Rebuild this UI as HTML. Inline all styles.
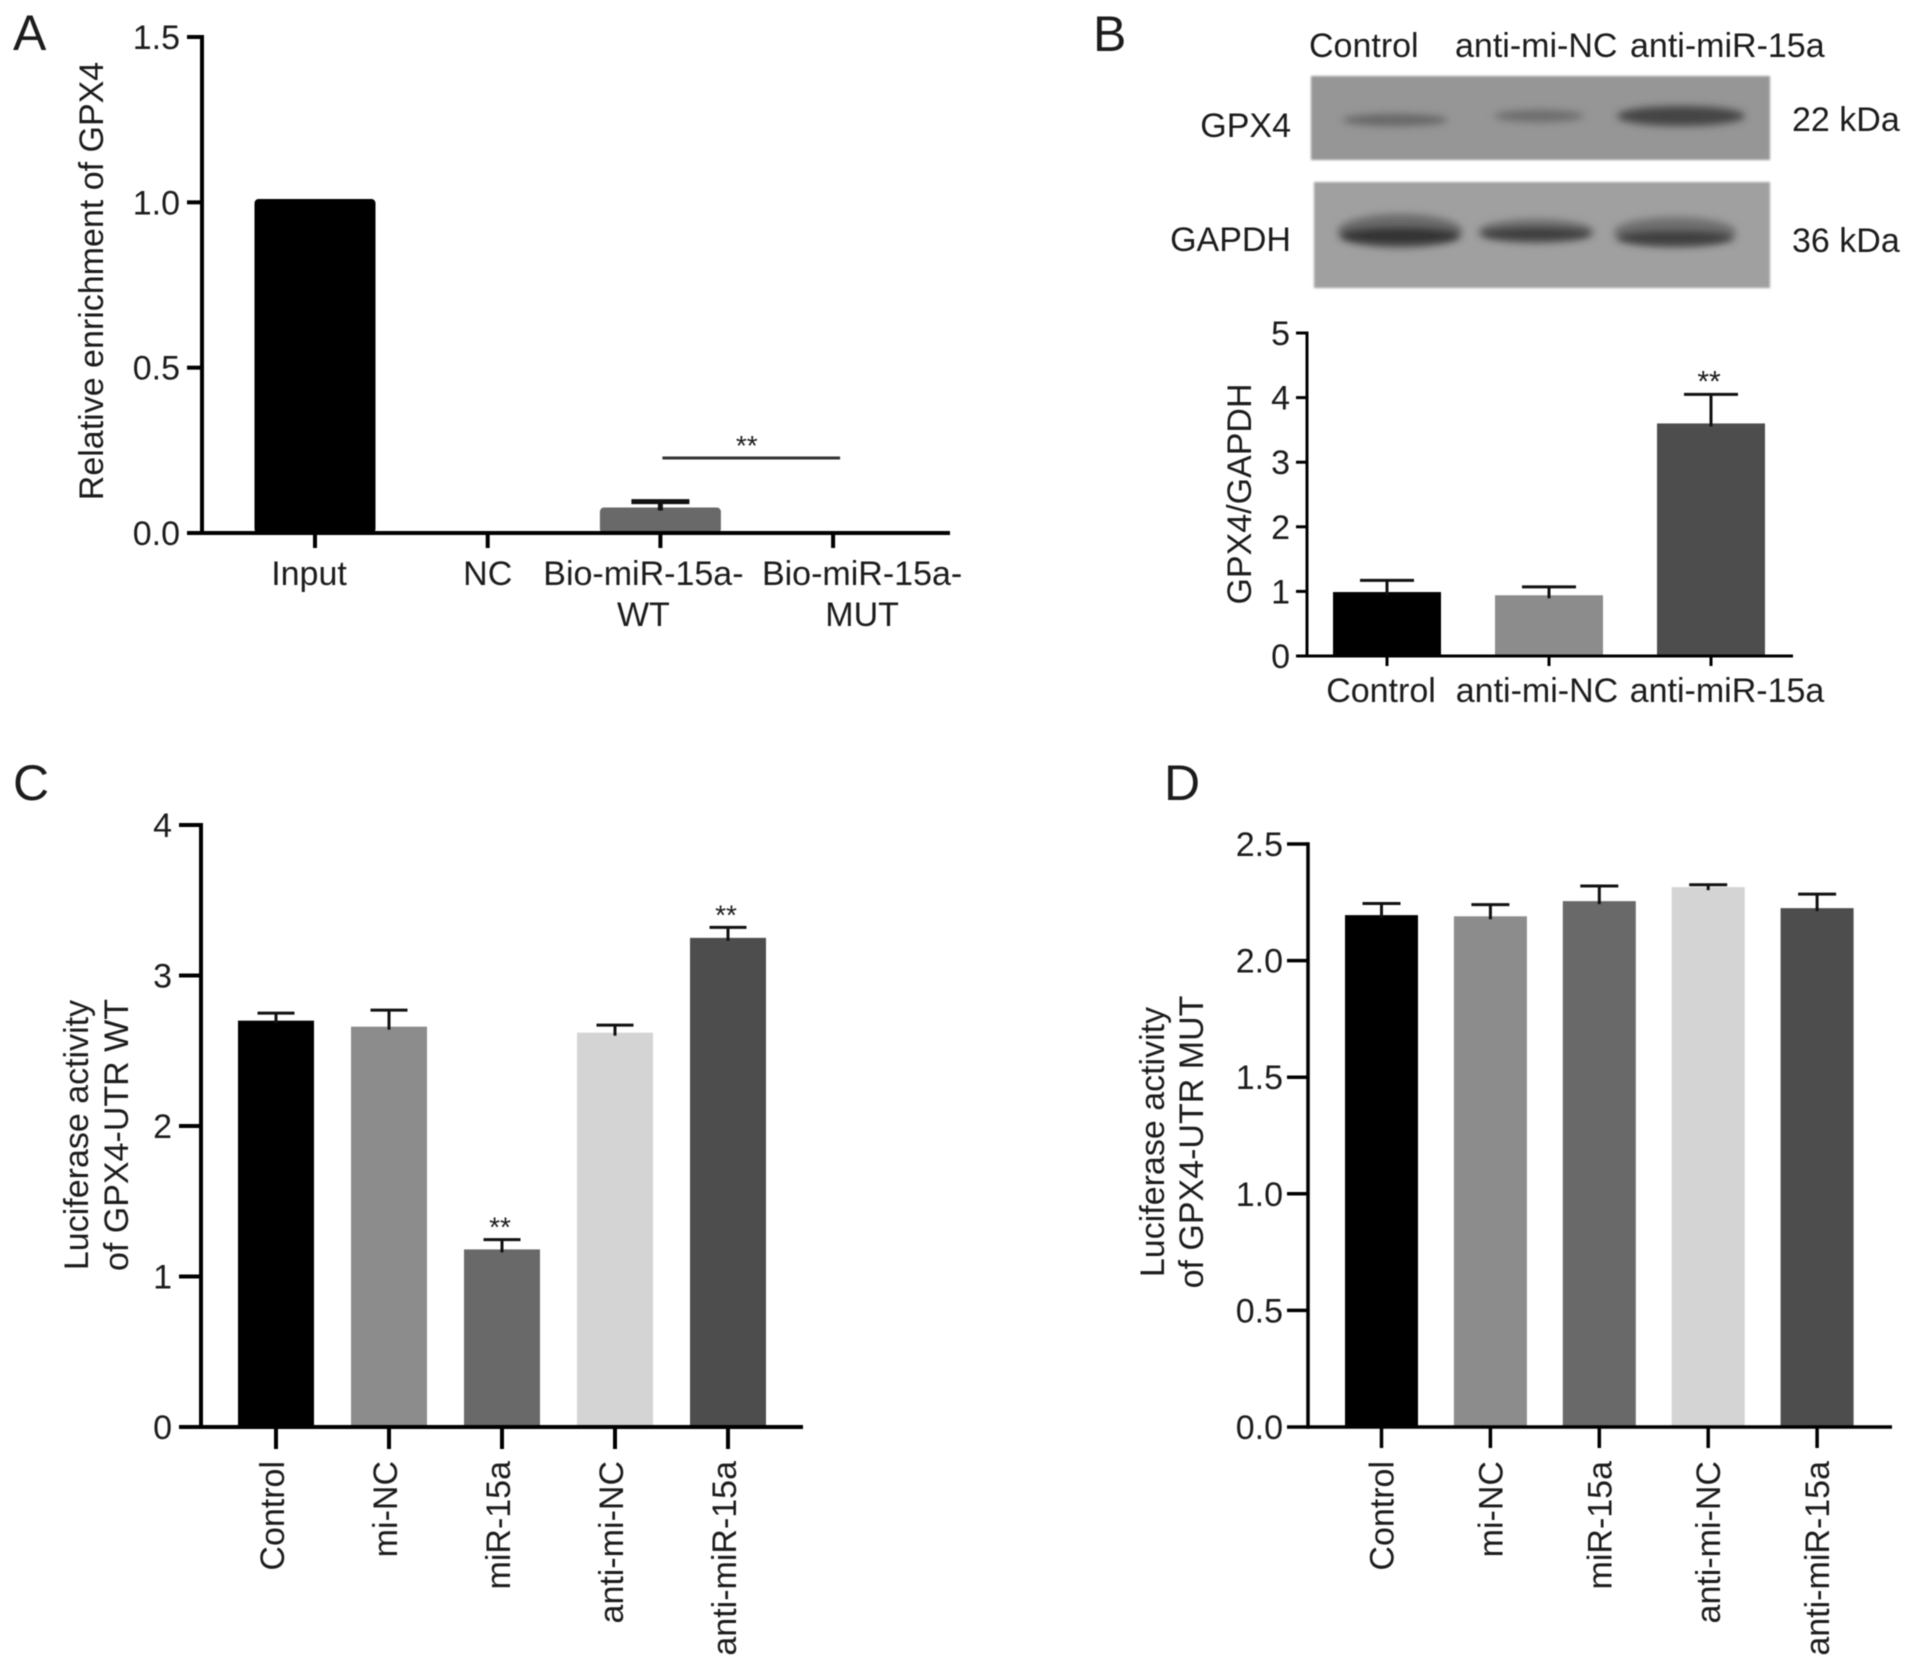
<!DOCTYPE html>
<html lang="en">
<head>
<meta charset="utf-8">
<title>GPX4 enrichment and luciferase activity figure</title>
<style>
  html, body { margin: 0; padding: 0; background: #fff; }
  #figure { display: block; width: 1913px; height: 1668px; filter: blur(0.6px); }
  text { font-family: "Liberation Sans", sans-serif; font-size: 34px; fill: #1c1c1c; }
  .panel-letter { font-size: 50px; }
</style>
</head>
<body>
<svg id="figure" xmlns="http://www.w3.org/2000/svg" width="1913" height="1668" viewBox="0 0 1913 1668">
  <defs>
    <filter id="band-blur" x="-20%" y="-80%" width="140%" height="260%"><feGaussianBlur stdDeviation="4"/></filter>
    <filter id="edge-blur" x="-2%" y="-5%" width="104%" height="110%"><feGaussianBlur stdDeviation="1"/></filter>
  </defs>
  <rect width="1913" height="1668" fill="#fff"/>

  <text class="panel-letter" x="13" y="50">A</text>
  <text class="panel-letter" x="1093" y="51">B</text>
  <text class="panel-letter" x="13" y="800">C</text>
  <text class="panel-letter" x="1164" y="800">D</text>

  <g>
    <text x="1309" y="57">Control</text>
    <text x="1455" y="57">anti-mi-NC</text>
    <text x="1630" y="57">anti-miR-15a</text>
    <text x="1291" y="137" text-anchor="end">GPX4</text>
    <text x="1291" y="251" text-anchor="end">GAPDH</text>
    <text x="1792" y="131">22 kDa</text>
    <text x="1792" y="252">36 kDa</text>

    <rect x="1311" y="76" width="459" height="84" fill="#969696" filter="url(#edge-blur)"/>
    <ellipse cx="1395" cy="120" rx="53" ry="6" fill="#666" filter="url(#band-blur)"/>
    <ellipse cx="1539" cy="116" rx="45" ry="6" fill="#6c6c6c" filter="url(#band-blur)"/>
    <ellipse cx="1681" cy="116" rx="64" ry="10" fill="#454545" filter="url(#band-blur)"/>

    <rect x="1314" y="182" width="456" height="106" fill="#a0a0a0" filter="url(#edge-blur)"/>
    <ellipse cx="1400" cy="231" rx="62" ry="17" fill="#6a6a6a" filter="url(#band-blur)"/>
    <ellipse cx="1400" cy="236" rx="60" ry="8" fill="#333" filter="url(#band-blur)"/>
    <ellipse cx="1536" cy="231" rx="57" ry="12" fill="#707070" filter="url(#band-blur)"/>
    <ellipse cx="1536" cy="234" rx="56" ry="6" fill="#3a3a3a" filter="url(#band-blur)"/>
    <ellipse cx="1675" cy="232" rx="61" ry="15" fill="#707070" filter="url(#band-blur)"/>
    <ellipse cx="1675" cy="238" rx="59" ry="7" fill="#3c3c3c" filter="url(#band-blur)"/>
  </g>
</svg>

<script>
// Panel A data
const aCategories = [["Input"], ["NC"], ["Bio-miR-15a-", "WT"], ["Bio-miR-15a-", "MUT"]];
const aValues = [1.01, 0, 0.077, 0];
const aErrors = [0, 0, 0.018, 0];
const aTicks = [0, 0.5, 1.0, 1.5];
const aTickLabels = ["0.0", "0.5", "1.0", "1.5"];
const aColors = ["#000000", "#000000", "#696969", "#000000"];
const aStars = [false, false, false, false];
const aBracketLevel = 0.227;

// Panel B data
const bCategories = [["Control"], ["anti-mi-NC"], ["anti-miR-15a"]];
const bValues = [0.99, 0.94, 3.6];
const bErrors = [0.18, 0.13, 0.45];
const bTicks = [0, 1, 2, 3, 4, 5];
const bTickLabels = ["0", "1", "2", "3", "4", "5"];
const bColors = ["#000000", "#8c8c8c", "#4d4d4d"];
const bStars = [false, false, true];

// Panel C data
const cCategories = ["Control", "mi-NC", "miR-15a", "anti-mi-NC", "anti-miR-15a"];
const cValues = [2.7, 2.66, 1.18, 2.62, 3.25];
const cErrors = [0.05, 0.11, 0.065, 0.05, 0.07];
const cTicks = [0, 1, 2, 3, 4];
const cTickLabels = ["0", "1", "2", "3", "4"];
const cColors = ["#000000", "#8c8c8c", "#696969", "#d4d4d4", "#4d4d4d"];
const cStars = [false, false, true, false, true];

// Panel D data
const dCategories = ["Control", "mi-NC", "miR-15a", "anti-mi-NC", "anti-miR-15a"];
const dValues = [2.195, 2.19, 2.255, 2.315, 2.225];
const dErrors = [0.05, 0.05, 0.065, 0.01, 0.06];
const dTicks = [0, 0.5, 1.0, 1.5, 2.0, 2.5];
const dTickLabels = ["0.0", "0.5", "1.0", "1.5", "2.0", "2.5"];
const dColors = ["#000000", "#8c8c8c", "#696969", "#d4d4d4", "#4d4d4d"];
const dStars = [false, false, false, false, false];

const SVG_NS = "http://www.w3.org/2000/svg";
const figure = document.getElementById("figure");

function make(tag, attrs, parent) {
  const node = document.createElementNS(SVG_NS, tag);
  for (const key in attrs) node.setAttribute(key, attrs[key]);
  parent.appendChild(node);
  return node;
}

function slug(text) {
  return String(text).toLowerCase().replace(/[^a-z0-9]+/g, "-").replace(/^-|-$/g, "");
}

function drawPanel(p) {
  const yScale = v => p.y0 - (v / p.yMax) * (p.y0 - p.yTop);
  const xScale = i => p.xFirst + i * p.xStep;

  const group = make("g", {}, figure);
  
  

  p.values.forEach((value, i) => {
    if (value <= 0) return;
    const cx = xScale(i);
    const bar = make("rect", {
      x: cx - p.barWidth / 2, y: yScale(value), width: p.barWidth,
      height: p.y0 - yScale(value), fill: p.colors[i], rx: p.barRadius || 0
    }, group);
    
    

    const top = yScale(value + p.errors[i]);
    if (p.errors[i] > 0) {
      const stem = make("line", { x1: cx, x2: cx, y1: yScale(value) + 3, y2: top, stroke: "#111", "stroke-width": p.errorStroke }, group);
      
      
      const cap = make("line", { x1: cx - p.capWidth / 2, x2: cx + p.capWidth / 2, y1: top, y2: top, stroke: "#111", "stroke-width": p.errorStroke }, group);
      
      
    }
    if (p.stars[i]) {
      const star = make("text", { x: cx - 2, y: top - 3, "text-anchor": "middle" }, group);
      star.style.fontSize = p.starSize + "px";
      star.textContent = "**";
      
      
    }
  });

  const yAxis = make("line", { x1: p.xAxis, x2: p.xAxis, y1: p.yTop - p.stroke / 2, y2: p.y0 + p.stroke / 2, stroke: "#000", "stroke-width": p.stroke }, group);
  
  
  const xAxis = make("line", { x1: p.xAxis, x2: p.xRight, y1: p.y0, y2: p.y0, stroke: "#000", "stroke-width": p.stroke }, group);
  
  

  p.ticks.forEach((tick, i) => {
    const y = yScale(tick);
    const mark = make("line", { x1: p.xAxis - p.yTickLen, x2: p.xAxis, y1: y, y2: y, stroke: "#000", "stroke-width": p.stroke }, group);
    
    
    const label = make("text", { x: p.yLabelX, y: y + 12, "text-anchor": "end" }, group);
    label.textContent = p.tickLabels[i];
    
    
  });

  p.categories.forEach((category, i) => {
    const cx = xScale(i);
    const mark = make("line", { x1: cx, x2: cx, y1: p.y0, y2: p.y0 + p.xTickLen, stroke: "#000", "stroke-width": p.stroke }, group);
    
    

    if (p.rotated) {
      const lx = cx + p.labelDx;
      const label = make("text", { x: lx, y: p.xLabelY, "text-anchor": "end", transform: "rotate(-90 " + lx + " " + p.xLabelY + ")" }, group);
      label.textContent = category;
      
      
    } else {
      category.forEach((line, k) => {
        const label = make("text", { x: cx + p.labelShift(i, k), y: p.xLabelY + k * 41, "text-anchor": "middle" }, group);
        label.textContent = line;
        
        
      });
    }
  });

  p.titleLines.forEach((line, k) => {
    const tx = p.titleX + k * p.titleGap;
    const title = make("text", { x: tx, y: p.titleY, "text-anchor": "middle", transform: "rotate(-90 " + tx + " " + p.titleY + ")" }, group);
    title.textContent = line;
    
    
  });

  return { xScale, yScale, group };
}

const panelA = drawPanel({
  id: "a", categories: aCategories, values: aValues, errors: aErrors, ticks: aTicks, tickLabels: aTickLabels,
  colors: aColors, stars: aStars, yMax: 1.5, yTop: 37, y0: 533, xAxis: 202, xRight: 950, xFirst: 315, xStep: 172.7,
  barWidth: 121, barRadius: 4, capWidth: 58, errorStroke: 5, stroke: 4, yTickLen: 15, xTickLen: 15, yLabelX: 180,
  xLabelY: 585, rotated: false, starSize: 28,
  labelShift: (i, k) => (i === 0 ? -6 : i === 1 ? 0 : i === 2 ? -17 : 29),
  titleLines: ["Relative enrichment of GPX4"], titleX: 103, titleY: 281, titleGap: 0
});

const bracket = make("line", {
  x1: panelA.xScale(2) + 2, x2: panelA.xScale(3) + 7,
  y1: panelA.yScale(aBracketLevel), y2: panelA.yScale(aBracketLevel),
  stroke: "#333", "stroke-width": 3
}, panelA.group);


const bracketStar = make("text", { x: (panelA.xScale(2) + panelA.xScale(3)) / 2, y: panelA.yScale(aBracketLevel) - 3, "text-anchor": "middle" }, panelA.group);
bracketStar.style.fontSize = "28px";
bracketStar.textContent = "**";



drawPanel({
  id: "b", categories: bCategories, values: bValues, errors: bErrors, ticks: bTicks, tickLabels: bTickLabels,
  colors: bColors, stars: bStars, yMax: 5, yTop: 333, y0: 656, xAxis: 1307, xRight: 1793, xFirst: 1387, xStep: 162,
  barWidth: 108, capWidth: 54, errorStroke: 3, stroke: 3, yTickLen: 11, xTickLen: 10, yLabelX: 1290,
  xLabelY: 702, rotated: false, starSize: 30,
  labelShift: (i, k) => (i === 0 ? -6 : i === 1 ? -12 : 16),
  titleLines: ["GPX4/GAPDH"], titleX: 1251, titleY: 494, titleGap: 0
});

drawPanel({
  id: "c", categories: cCategories, values: cValues, errors: cErrors, ticks: cTicks, tickLabels: cTickLabels,
  colors: cColors, stars: cStars, yMax: 4, yTop: 825, y0: 1427, xAxis: 201, xRight: 803, xFirst: 276, xStep: 113,
  barWidth: 76, capWidth: 37, errorStroke: 3, stroke: 4, yTickLen: 22, xTickLen: 22, yLabelX: 172,
  xLabelY: 1461, rotated: true, labelDx: 8, starSize: 28,
  titleLines: ["Luciferase activity", "of GPX4-UTR WT"], titleX: 88, titleY: 1135, titleGap: 40
});

drawPanel({
  id: "d", categories: dCategories, values: dValues, errors: dErrors, ticks: dTicks, tickLabels: dTickLabels,
  colors: dColors, stars: dStars, yMax: 2.5, yTop: 844, y0: 1427, xAxis: 1308, xRight: 1892, xFirst: 1381.5, xStep: 108.9,
  barWidth: 73, capWidth: 38, errorStroke: 3, stroke: 3.5, yTickLen: 21, xTickLen: 21, yLabelX: 1283,
  xLabelY: 1461, rotated: true, labelDx: 12, starSize: 28,
  titleLines: ["Luciferase activity", "of GPX4-UTR MUT"], titleX: 1164, titleY: 1142, titleGap: 39
});
</script>
</body>
</html>
